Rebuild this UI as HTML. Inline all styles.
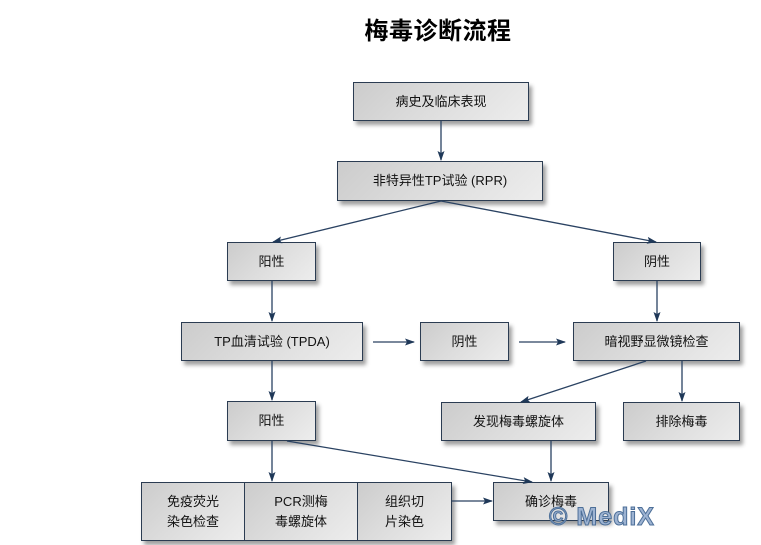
<!DOCTYPE html>
<html>
<head>
<meta charset="utf-8">
<style>
  html,body{margin:0;padding:0;background:#fff;}
  body{width:761px;height:545px;position:relative;overflow:hidden;
    font-family:"Liberation Sans","Noto Sans CJK SC","WenQuanYi Zen Hei",sans-serif;}
  .title{position:absolute;left:338px;top:16px;width:200px;text-align:center;
    font-size:24px;font-weight:bold;color:#000;letter-spacing:0.5px;line-height:32px;}
  .box{position:absolute;box-sizing:border-box;border:1px solid #2b3c52;
    background:linear-gradient(135deg,#cccccc 0%,#dcdcdc 45%,#ededed 100%);
    box-shadow:3px 4px 4px rgba(0,0,0,0.38);
    display:flex;align-items:center;justify-content:center;text-align:center;
    font-size:13px;color:#111;line-height:18px;}
  .cell{position:absolute;box-sizing:border-box;top:0;bottom:0;
    background:linear-gradient(135deg,#cccccc 0%,#dcdcdc 45%,#ededed 100%);
    display:flex;align-items:center;justify-content:center;text-align:center;
    font-size:13px;color:#111;line-height:20px;}
  svg{position:absolute;left:0;top:0;}
  .wm{position:absolute;left:549px;top:502px;font-family:"Liberation Sans",sans-serif;
    font-weight:bold;font-size:25px;color:#9db3d2;letter-spacing:1px;
    -webkit-text-stroke:1px #4d6f98;line-height:30px;}
</style>
</head>
<body>
<div class="title">梅毒诊断流程</div>

<div class="box" style="left:353px;top:82px;width:176px;height:39px;">病史及临床表现</div>
<div class="box" style="left:337px;top:161px;width:206px;height:40px;">非特异性TP试验 (RPR)</div>

<div class="box" style="left:227px;top:242px;width:89px;height:39px;">阳性</div>
<div class="box" style="left:613px;top:242px;width:88px;height:39px;">阴性</div>

<div class="box" style="left:181px;top:322px;width:182px;height:39px;">TP血清试验 (TPDA)</div>
<div class="box" style="left:420px;top:322px;width:89px;height:39px;">阴性</div>
<div class="box" style="left:573px;top:322px;width:167px;height:39px;">暗视野显微镜检查</div>

<div class="box" style="left:227px;top:401px;width:89px;height:40px;">阳性</div>
<div class="box" style="left:441px;top:402px;width:155px;height:39px;">发现梅毒螺旋体</div>
<div class="box" style="left:623px;top:402px;width:117px;height:39px;">排除梅毒</div>

<div class="box" style="left:493px;top:482px;width:116px;height:39px;">确诊梅毒</div>

<div class="box" style="left:141px;top:482px;width:311px;height:59px;background:none;">
  <div class="cell" style="left:0;width:103px;border-right:1px solid #2b3c52;">免疫荧光<br>染色检查</div>
  <div class="cell" style="left:103px;width:113px;border-right:1px solid #2b3c52;">PCR测梅<br>毒螺旋体</div>
  <div class="cell" style="left:216px;width:93px;">组织切<br>片染色</div>
</div>

<svg width="761" height="545" viewBox="0 0 761 545">
  <defs>
    <marker id="ah" markerWidth="10" markerHeight="8" refX="9" refY="4" orient="auto" markerUnits="userSpaceOnUse">
      <path d="M0,0.5 L10,4 L0,7.5 L2,4 Z" fill="#1f3858"/>
    </marker>
  </defs>
  <g stroke="#2a4262" stroke-width="1.3" fill="none" marker-end="url(#ah)">
    <line x1="441" y1="121" x2="441" y2="160"/>
    <line x1="441" y1="201" x2="273" y2="242"/>
    <line x1="441" y1="201" x2="656" y2="242"/>
    <line x1="272" y1="281" x2="272" y2="321"/>
    <line x1="657" y1="281" x2="657" y2="321"/>
    <line x1="373" y1="342" x2="414" y2="342"/>
    <line x1="519" y1="342" x2="565" y2="342"/>
    <line x1="272" y1="361" x2="272" y2="400"/>
    <line x1="646" y1="361" x2="521" y2="402"/>
    <line x1="682" y1="361" x2="682" y2="401"/>
    <line x1="272" y1="441" x2="272" y2="481"/>
    <line x1="287" y1="441" x2="532" y2="482"/>
    <line x1="551" y1="441" x2="551" y2="481"/>
    <line x1="452" y1="501" x2="492" y2="501"/>
  </g>
</svg>

<div class="wm">© MediX</div>
</body>
</html>
